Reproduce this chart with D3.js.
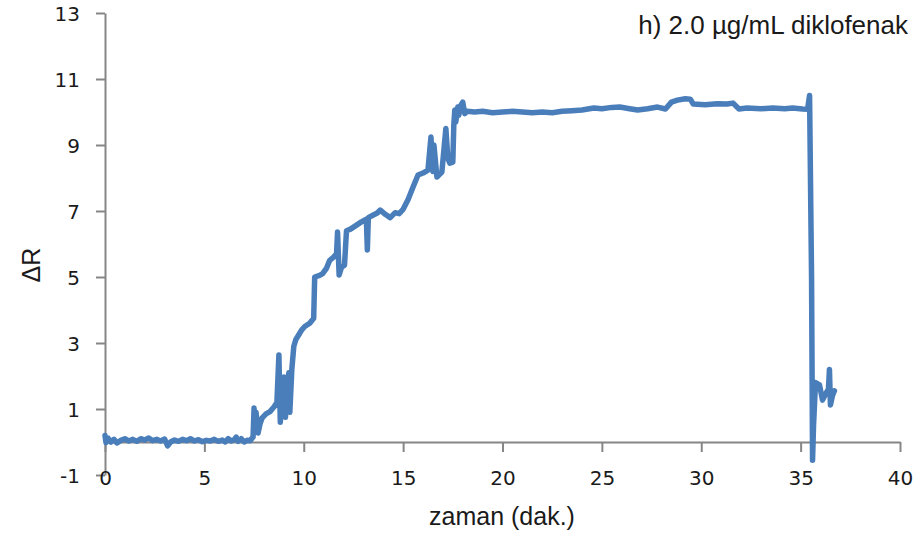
<!DOCTYPE html>
<html>
<head>
<meta charset="utf-8">
<script src="https://cdn.jsdelivr.net/npm/d3@7"></script>
<style>
  html, body { margin: 0; padding: 0; background: #ffffff; }
  svg { display: block; }
</style>
</head>
<body>
<svg id="chart" width="923" height="535"></svg>
<script>
// Time (min) and ΔR response of the sensor
const times = [
  0.0, 0.05, 0.15, 0.3, 0.45, 0.6, 0.8, 1.0, 1.2, 1.4, 1.6, 1.8, 2.0, 2.2, 2.4, 2.6, 2.8, 3.0, 3.15, 3.3,
  3.5, 3.7, 3.9, 4.1, 4.3, 4.5, 4.7, 4.9, 5.1, 5.3, 5.5, 5.7, 5.9, 6.05, 6.2, 6.35, 6.5, 6.6, 6.7, 6.85,
  7.0, 7.15, 7.3, 7.45, 7.5, 7.55, 7.6, 7.7, 7.8, 7.9, 8.1, 8.3, 8.5, 8.65, 8.75, 8.82, 8.9, 9.0, 9.08, 9.15,
  9.25, 9.3, 9.4, 9.5, 9.6, 9.75, 9.9, 10.05, 10.3, 10.5, 10.55, 10.8, 10.95, 11.15, 11.3, 11.5, 11.65, 11.7, 11.78, 11.9,
  12.05, 12.15, 12.35, 12.6, 12.9, 13.15, 13.2, 13.25, 13.5, 13.7, 13.85, 14.1, 14.35, 14.6, 14.8, 15.0, 15.25, 15.5, 15.75, 16.0,
  16.25, 16.4, 16.5, 16.55, 16.7, 16.95, 17.15, 17.25, 17.35, 17.5, 17.55, 17.6, 17.65, 17.75, 17.8, 17.9, 18.0, 18.1, 18.2, 18.6,
  19.0, 19.5, 20.0, 20.5, 21.0, 21.5, 22.0, 22.5, 23.0, 23.5, 24.0, 24.6, 25.0, 25.5, 25.9, 26.4, 26.8, 27.3, 27.8, 28.2,
  28.5, 28.8, 29.2, 29.45, 29.6, 30.2, 30.8, 31.3, 31.6, 31.9, 32.3, 33.0, 33.6, 34.2, 34.6, 35.1, 35.35, 35.45, 35.55, 35.6,
  35.65, 35.75, 35.95, 36.1, 36.3, 36.4, 36.45, 36.5, 36.6, 36.7
];
const deltaR = [
  0.2, -0.02, 0.12, 0.0, 0.08, -0.03, 0.05, 0.1, 0.03, 0.08, 0.02, 0.1, 0.06, 0.12, 0.04, 0.08, 0.03, 0.09, -0.12, 0.0,
  0.06, 0.02, 0.08, 0.04, 0.1, 0.03, 0.07, 0.01, 0.05, 0.03, 0.08, 0.02, 0.06, 0.0, 0.1, 0.03, 0.07, 0.15, 0.02, 0.1,
  0.0, 0.05, 0.04, 0.15, 1.03, 0.3, 0.9, 0.27, 0.55, 0.72, 0.85, 0.92, 1.06, 1.2, 2.64, 0.6, 1.3, 1.97, 0.75, 1.5,
  2.1, 0.9, 2.2, 2.9, 3.1, 3.25, 3.4, 3.5, 3.6, 3.75, 5.0, 5.05, 5.1, 5.27, 5.5, 5.6, 5.7, 6.36, 5.06, 5.3,
  5.36, 6.4, 6.45, 6.55, 6.67, 6.75, 5.82, 6.8, 6.88, 6.94, 7.03, 6.9, 6.8, 6.95, 6.92, 7.05, 7.35, 7.73, 8.09, 8.15,
  8.24, 9.24, 8.2, 9.0, 8.03, 8.18, 9.5, 8.6, 8.45, 8.48, 9.6, 10.06, 9.7, 10.15, 9.9, 10.2, 10.3, 9.95, 10.02, 10.0,
  10.02, 9.98, 10.0, 10.02, 10.0, 9.98, 10.0, 9.98, 10.02, 10.04, 10.06, 10.12, 10.1, 10.14, 10.15, 10.1, 10.06, 10.1, 10.15, 10.09,
  10.3, 10.36, 10.4, 10.39, 10.24, 10.22, 10.25, 10.24, 10.27, 10.09, 10.12, 10.1, 10.12, 10.1, 10.12, 10.09, 10.08, 10.5, 5.0, -0.55,
  0.5, 1.8, 1.73, 1.27, 1.5, 1.6, 2.2, 1.12, 1.4, 1.55
];
const xTicks = [0, 5, 10, 15, 20, 25, 30, 35, 40];
const yTicks = [-1, 1, 3, 5, 7, 9, 11, 13];
const titleText = "h) 2.0 µg/mL diklofenak";
const xLabel = "zaman (dak.)";
const yLabel = "ΔR";

const points = times.map((t, i) => ({ t, v: deltaR[i] }));

const svg = d3.select("#chart");
const x = d3.scaleLinear().domain([0, 40]).range([105, 900]);
const y = d3.scaleLinear().domain([-1, 13]).range([475, 13]);

const axisColor = "#868686";
const tickFont = "'DejaVu Sans', Verdana, sans-serif";
const textFont = "'Liberation Sans', Arial, sans-serif";
const plainNumber = d => String(d);

// Y axis
const gy = svg.append("g")
  .attr("transform", `translate(${x(0)},0)`)
  .call(d3.axisLeft(y).tickValues(yTicks).tickFormat(plainNumber)
    .tickSize(9).tickSizeOuter(0).tickPadding(16));
gy.select(".domain").attr("stroke", axisColor).attr("stroke-width", 2);
gy.selectAll(".tick line").attr("stroke", axisColor).attr("stroke-width", 2);
gy.selectAll(".tick text")
  .attr("font-family", tickFont).attr("font-size", 20).attr("fill", "#1a1a1a")
  .attr("dy", "0.36em");

// X axis crosses at ΔR = 0; labels sit at the bottom of the plot
const gx = svg.append("g")
  .attr("transform", `translate(0,${y(0)})`)
  .call(d3.axisBottom(x).tickValues(xTicks).tickFormat(plainNumber)
    .tickSize(10).tickSizeOuter(0));
gx.select(".domain").attr("stroke", axisColor).attr("stroke-width", 2);
gx.selectAll(".tick line").attr("stroke", axisColor).attr("stroke-width", 2);
gx.selectAll(".tick text")
  .attr("font-family", tickFont).attr("font-size", 20).attr("fill", "#1a1a1a")
  .attr("y", y(-1) - y(0) + 3).attr("dy", "0.36em");

// Data line
const line = d3.line().x(d => x(d.t)).y(d => y(d.v));
svg.append("path")
  .datum(points)
  .attr("d", line)
  .attr("fill", "none")
  .attr("stroke", "#4a7ebb")
  .attr("stroke-width", 5.5)
  .attr("stroke-linejoin", "round")
  .attr("stroke-linecap", "round");

// Title and axis titles
svg.append("text")
  .attr("x", 908).attr("y", 34)
  .attr("text-anchor", "end")
  .attr("font-family", textFont).attr("font-size", 26).attr("fill", "#1a1a1a")
  .text(titleText);

svg.append("text")
  .attr("x", 502).attr("y", 525)
  .attr("text-anchor", "middle")
  .attr("font-family", textFont).attr("font-size", 25).attr("fill", "#1a1a1a")
  .text(xLabel);

svg.append("text")
  .attr("transform", "translate(40,265) rotate(-90)")
  .attr("text-anchor", "middle")
  .attr("font-family", textFont).attr("font-size", 25).attr("fill", "#1a1a1a")
  .text(yLabel);
</script>
</body>
</html>
